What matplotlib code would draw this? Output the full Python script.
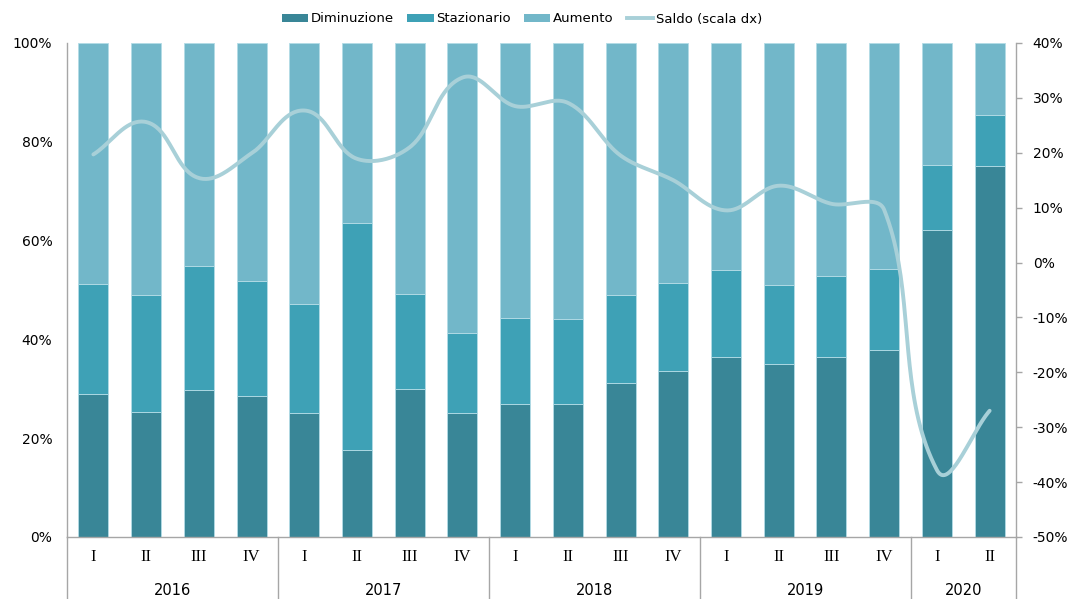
import numpy as np
import matplotlib
matplotlib.use("Agg")
import matplotlib.pyplot as plt
from matplotlib.patches import Patch
from matplotlib.lines import Line2D
from matplotlib.ticker import FuncFormatter, MultipleLocator
import matplotlib.transforms as mtransforms

# quote per trimestre (%)
anni = ["2016", "2017", "2018", "2019", "2020"]
trimestri_per_anno = [4, 4, 4, 4, 2]
trimestri = ["I", "II", "III", "IV"] * 4 + ["I", "II"]

diminuzione = [28.9, 25.4, 29.7, 28.5, 25.2, 17.7, 30.0, 25.2, 27.0,
               26.9, 31.2, 33.6, 36.5, 35.0, 36.5, 37.8, 62.1, 75.2]
stazionario = [22.4, 23.6, 25.2, 23.3, 21.9, 45.8, 19.1, 16.0, 17.4,
               17.2, 17.7, 17.8, 17.6, 16.1, 16.4, 16.4, 13.3, 10.3]
aumento = [48.7, 51.0, 45.1, 48.2, 52.9, 36.5, 50.9, 58.8, 55.6,
           55.9, 51.1, 48.6, 45.9, 48.9, 47.1, 45.8, 24.6, 14.5]
saldo = [19.7, 25.6, 15.4, 19.9, 27.7, 18.9, 21.0, 33.7, 28.5,
         29.1, 19.5, 15.0, 9.5, 14.0, 10.7, 9.6, -37.8, -27.0]

c_dim = "#398697"
c_staz = "#3ea1b6"
c_aum = "#72b7c9"
c_saldo = "#a8d0d8"
c_axis = "#a6a6a6"
bordo = "#b3dce6"


def curva_smussata(x, y, sx, sy, n=40):
    # bezier con punti di controllo proporzionali alle corde (in pixel)
    p = np.column_stack([np.asarray(x) * sx, np.asarray(y) * sy]).astype(float)
    m = len(p)
    out = []
    for i in range(m - 1):
        p0 = p[max(i - 1, 0)]
        p1 = p[i]
        p2 = p[i + 1]
        p3 = p[min(i + 2, m - 1)]
        corda = np.hypot(*(p2 - p1))
        d1 = p2 - p0
        d2 = p3 - p1
        d1 = d1 / np.hypot(*d1)
        d2 = d2 / np.hypot(*d2)
        c1 = p1 + d1 * corda / 3
        c2 = p2 - d2 * corda / 3
        t = np.linspace(0, 1, n)[:, None]
        seg = ((1 - t) ** 3 * p1 + 3 * (1 - t) ** 2 * t * c1
               + 3 * (1 - t) * t ** 2 * c2 + t ** 3 * p2)
        out.append(seg if i == 0 else seg[1:])
    out = np.vstack(out)
    return out[:, 0] / sx, out[:, 1] / sy


W, H = 1086, 599
fig = plt.figure(figsize=(W / 100, H / 100), dpi=100)
ax = fig.add_axes([67 / W, 62 / H, 949 / W, 494 / H])

x = np.arange(len(diminuzione))
dim = np.array(diminuzione)
staz = np.array(stazionario)
aum = np.array(aumento)
larg = 0.57
ax.bar(x, dim, larg, color=c_dim, edgecolor=bordo, linewidth=0.6, zorder=2)
ax.bar(x, staz, larg, bottom=dim, color=c_staz, edgecolor=bordo, linewidth=0.6, zorder=2)
ax.bar(x, aum, larg, bottom=dim + staz, color=c_aum, edgecolor=bordo, linewidth=0.6, zorder=2)

ax.set_xlim(-0.5, len(x) - 0.5)
ax.set_ylim(0, 100)
ax.yaxis.set_major_locator(MultipleLocator(20))
ax.yaxis.set_major_formatter(FuncFormatter(lambda v, p: f"{v:.0f}%"))
ax.tick_params(axis="y", length=0, pad=10.5, labelsize=10, colors="black")
ax.set_xticks([])
for s in ["top", "right"]:
    ax.spines[s].set_visible(False)
ax.spines["left"].set_color(c_axis)
ax.spines["bottom"].set_color(c_axis)
ax.spines["left"].set_linewidth(1.0)
ax.spines["bottom"].set_linewidth(1.0)

# asse destro per il saldo
ax2 = ax.twinx()
ax2.set_ylim(-50, 40)
ax2.yaxis.set_major_locator(MultipleLocator(10))
ax2.yaxis.set_major_formatter(FuncFormatter(lambda v, p: f"{v:.0f}%"))
ax2.tick_params(axis="y", length=4, width=1, color=c_axis, pad=8, labelsize=10)
for s in ["top", "left", "bottom"]:
    ax2.spines[s].set_visible(False)
ax2.spines["right"].set_color(c_axis)
ax2.spines["right"].set_linewidth(1.0)
# scala pixel per unità: 949/18 in x, 494/90 in y
xs, ys = curva_smussata(x, saldo, 949 / 18, 494 / 90)
ax2.plot(xs, ys, color=c_saldo, linewidth=2.8, solid_capstyle="round", zorder=3)

# asse delle categorie su due livelli
trans = mtransforms.blended_transform_factory(ax.transData, ax.transAxes)
for xi, q in zip(x, trimestri):
    ax.text(xi, -0.041, q, transform=trans, ha="center", va="center",
            fontsize=12, family="Liberation Serif")
bordi = np.concatenate([[0], np.cumsum(trimestri_per_anno)]) - 0.5
for a, b0, b1 in zip(anni, bordi[:-1], bordi[1:]):
    ax.text((b0 + b1) / 2, -0.108, a, transform=trans, ha="center", va="center",
            fontsize=10.5)
for b in bordi:
    ax.plot([b, b], [0, -0.13], transform=trans, color=c_axis, linewidth=1.0,
            clip_on=False)

handles = [Patch(facecolor=c_dim, label="Diminuzione"),
           Patch(facecolor=c_staz, label="Stazionario"),
           Patch(facecolor=c_aum, label="Aumento"),
           Line2D([], [], color=c_saldo, linewidth=2.8, label="Saldo (scala dx)")]
fig.legend(handles=handles, loc="center", bbox_to_anchor=(522 / W, 1 - 19 / H),
           ncol=4, frameon=False, fontsize=9.5, handlelength=2.0, handleheight=0.55,
           handletextpad=0.2, columnspacing=1.0)

fig.savefig("out.png", dpi=100)
